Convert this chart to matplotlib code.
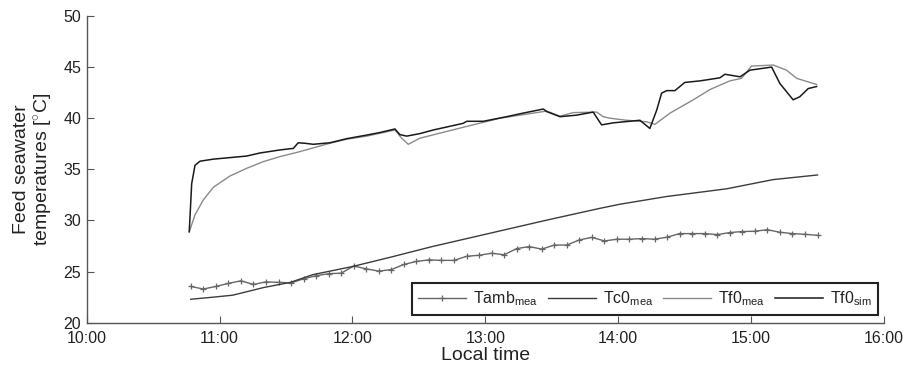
import numpy as np
import matplotlib
matplotlib.use("Agg")
from matplotlib import pyplot as plt

plt.rcParams["font.family"] = ["Liberation Sans", "DejaVu Sans"]
plt.rcParams["mathtext.fontset"] = "custom"
plt.rcParams["mathtext.rm"] = "Liberation Sans"
plt.rcParams["mathtext.it"] = "Liberation Sans:italic"
plt.rcParams["text.color"] = "#222222"
plt.rcParams["axes.labelcolor"] = "#222222"
plt.rcParams["xtick.labelcolor"] = "#222222"
plt.rcParams["ytick.labelcolor"] = "#222222"

# minutes after 10:00
tamb_start, tamb_end = 47, 330
tamb_mea = [23.55, 23.3, 23.55, 23.85, 24.1, 23.75, 24.0, 23.95, 23.9, 24.3, 24.6, 24.8, 24.85,
            25.55, 25.27, 25.05, 25.2, 25.7, 26.0, 26.15, 26.1, 26.1, 26.5, 26.6, 26.8, 26.65,
            27.25, 27.45, 27.2, 27.6, 27.6, 28.1, 28.35, 28.0, 28.17, 28.17, 28.23, 28.17, 28.37,
            28.72, 28.72, 28.72, 28.62, 28.82, 28.92, 28.95, 29.1, 28.85, 28.72, 28.65, 28.55]

tc0_t = [47, 57, 66, 80, 92, 102, 120, 137, 156, 182, 208, 232, 241, 262, 289, 310, 330]
tc0_mea = [22.3, 22.5, 22.7, 23.45, 23.95, 24.7, 25.5, 26.4, 27.45, 28.75, 30.05, 31.2, 31.6,
           32.35, 33.1, 34.0, 34.45]

tf0m_t = [46.3, 48.9, 52.6, 57.2, 64.7, 72.2, 79.7, 87.3, 94.8, 102.3, 109.8, 117.4, 126.4,
          139.2, 142.2, 145.2, 150.5, 171.6, 186.6, 207.7, 213.7, 219.7, 230.3, 233.2, 236.3,
          243.8, 252.8, 256.6, 263.4, 273.9, 281.4, 290.4, 295.7, 300.2, 310.0, 316.0, 320.6, 329.6]
tf0_mea = [28.9, 30.55, 32.0, 33.25, 34.35, 35.1, 35.75, 36.25, 36.65, 37.1, 37.55, 37.95, 38.25,
           38.85, 38.05, 37.45, 38.05, 39.2, 40.0, 40.7, 40.2, 40.55, 40.6, 40.15, 40.0,
           39.8, 39.65, 39.4, 40.5, 41.8, 42.8, 43.65, 43.9, 45.1, 45.2, 44.7, 43.9, 43.3]

tf0s_t = [46.3, 47.4, 48.9, 50.3, 51.2, 57.2, 64.7, 72.2, 78.2, 87.3, 93.3, 95.5, 98.6, 102.3,
          109.8, 117.4, 126.4, 132.4, 139.2, 141.4, 144.5, 150.5, 156.5, 170.0, 171.6, 179.1,
          189.6, 197.1, 206.2, 207.7, 213.7, 221.2, 228.7, 232.5, 237.8, 249.8, 254.3, 257.4,
          259.6, 261.9, 265.6, 270.1, 276.9, 285.9, 288.2, 295.0, 299.5, 309.3, 313.0, 319.0,
          322.0, 325.8, 329.6]
tf0_sim = [28.9, 33.6, 35.4, 35.65, 35.8, 36.0, 36.15, 36.3, 36.6, 36.9, 37.05, 37.6, 37.55, 37.45,
           37.6, 38.0, 38.35, 38.6, 38.95, 38.4, 38.25, 38.5, 38.85, 39.5, 39.7, 39.7,
           40.15, 40.5, 40.9, 40.65, 40.15, 40.3, 40.6, 39.35, 39.55, 39.8, 39.0, 40.8,
           42.45, 42.7, 42.7, 43.5, 43.65, 43.95, 44.3, 44.05, 44.7, 45.0, 43.4, 41.8,
           42.1, 42.9, 43.1]

hour_ticks = [10, 11, 12, 13, 14, 15, 16]
hour_labels = ["10:00", "11:00", "12:00", "13:00", "14:00", "15:00", "16:00"]


def to_hours(minutes):
    return 10 + np.asarray(minutes, dtype=float) / 60.0


fig = plt.figure(figsize=(9.08, 3.71), dpi=100)
ax = fig.add_axes([0.0955, 0.130, 0.878, 0.827])

tamb_t = np.linspace(tamb_start, tamb_end, len(tamb_mea))
ax.plot(to_hours(tamb_t), tamb_mea, color="#666666", lw=1.0, marker="+", ms=5, mew=0.9,
        label=r"Tamb$_{\rm mea}$")
ax.plot(to_hours(tc0_t), tc0_mea, color="#3c3c3c", lw=1.0, label=r"Tc0$_{\rm mea}$")
ax.plot(to_hours(tf0m_t), tf0_mea, color="#8a8a8a", lw=1.0, label=r"Tf0$_{\rm mea}$")
ax.plot(to_hours(tf0s_t), tf0_sim, color="#1a1a1a", lw=1.1, label=r"Tf0$_{\rm sim}$")

ax.set_xlim(10, 16)
ax.set_ylim(20, 50)
ax.set_xticks(hour_ticks)
ax.set_xticklabels(hour_labels)
ax.set_yticks([20, 25, 30, 35, 40, 45, 50])

ax.spines["top"].set_visible(False)
ax.spines["right"].set_visible(False)
for s in ["left", "bottom"]:
    ax.spines[s].set_color("#555555")
    ax.spines[s].set_linewidth(1.0)
ax.tick_params(direction="in", length=5, width=0.8, color="#555555", labelsize=11.5)
ax.tick_params(axis="x", pad=6)
ax.tick_params(axis="y", pad=4)

ax.set_xlabel("Local time", fontsize=14, labelpad=1)
ax.set_ylabel("Feed seawater\ntemperatures [$^{\\circ}$C]", fontsize=14, labelpad=6,
              linespacing=1.15)

leg = ax.legend(loc="lower right", ncol=4, frameon=True, fancybox=False, fontsize=11.5,
                handlelength=3.0, columnspacing=0.6, handletextpad=0.45, borderpad=0.4,
                borderaxespad=0, bbox_to_anchor=(0.993, 0.026))
leg.get_frame().set_edgecolor("#222222")
leg.get_frame().set_linewidth(1.5)
leg.get_frame().set_alpha(1)

fig.savefig("out.png", dpi=100)
